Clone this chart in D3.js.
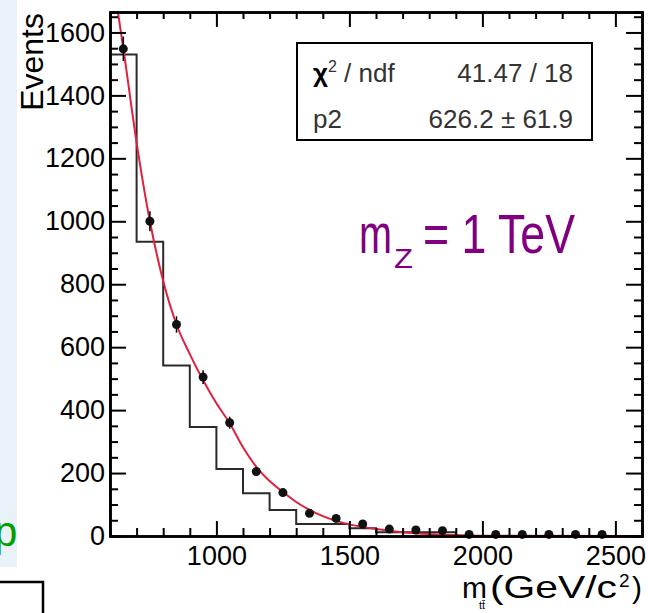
<!DOCTYPE html>
<html>
<head>
<meta charset="utf-8">
<script src="https://cdn.jsdelivr.net/npm/d3@7"></script>
<style>
  body { margin: 0; background: #fff; }
  svg { display: block; }
</style>
</head>
<body>
<script>
// histogram: bin lower edges (GeV/c^2) and counts, last edge closes the histogram
let binEdges = [600, 700, 800, 900, 1000, 1100, 1200, 1300, 1400, 1500, 1600, 1700, 1800, 1900];
let histCounts = [1530, 935, 542, 346, 213, 136, 83, 38, 38, 25, 12, 12, 12];

// data points at bin centres
let pointX = [650, 750, 850, 950, 1050, 1150, 1250, 1350, 1450, 1550, 1650, 1750, 1850, 1950, 2050, 2150, 2250, 2350, 2450];
let pointY = [1548, 1000, 672, 505, 360, 205, 138, 72, 56, 38, 22, 19, 17, 5, 5, 5, 5, 5, 5];
let pointErr = [39, 32, 26, 22, 19, 14, 12, 8, 7, 6, 5, 4, 4, 2, 2, 2, 2, 2, 2];

// fitted curve
let fitX = [630, 650, 700, 750, 800, 850, 900, 950, 1000, 1050, 1100, 1150, 1200, 1250, 1300, 1350, 1400, 1450, 1500, 1550, 1600, 1700, 1800, 1900, 2000, 2600];
let fitY = [1663, 1550, 1250, 1000, 810, 672, 578, 495, 422, 358, 282, 220, 175, 140, 108, 83, 63, 48, 37, 29, 22, 12, 6, 3, 1, 0];

let xMajor = [1000, 1500, 2000, 2500];
let yMajor = [0, 200, 400, 600, 800, 1000, 1200, 1400, 1600];

let statsRows = [["χ", "41.47 / 18"], ["p2", "626.2 ± 61.9"]];

let width = 648;
let height = 613;
let plotL = 110, plotR = 642, plotT = 12, plotB = 536;
let font = "'Liberation Sans', Arial, Helvetica, sans-serif";

let svg = d3
  .select("body")
  .append("svg")
  .attr("width", width)
  .attr("height", height);

let x = d3.scaleLinear().domain([600, 2600]).range([plotL, plotR]);
let y = d3.scaleLinear().domain([0, 1665]).range([plotB, plotT]);

// bits of the slide behind the plot
svg.append("rect")
  .attr("x", 0).attr("y", 0)
  .attr("width", 17).attr("height", 567)
  .attr("fill", "#eaf2f9");
svg.append("text")
  .attr("x", -6).attr("y", 546)
  .attr("font-family", font)
  .attr("font-size", 42)
  .attr("fill", "#00a000")
  .text("p");
svg.append("path")
  .attr("d", "M0,582H43V613")
  .attr("fill", "none")
  .attr("stroke", "#000")
  .attr("stroke-width", 2.5);

svg.append("clipPath").attr("id", "plot")
  .append("rect")
  .attr("x", plotL).attr("y", plotT)
  .attr("width", plotR - plotL).attr("height", plotB - plotT);

// histogram
let histPts = [[binEdges[0], 0]].concat(binEdges.map((e, i) => [e, i < histCounts.length ? histCounts[i] : 0]));
svg.append("path")
  .datum(histPts)
  .attr("fill", "none")
  .attr("stroke", "#2a2a2a")
  .attr("stroke-width", 2)
  .attr("d", d3.line().curve(d3.curveStepAfter).x(d => x(d[0])).y(d => y(d[1])));

// fit
svg.append("path")
  .datum(fitX.map((v, i) => [v, fitY[i]]))
  .attr("clip-path", "url(#plot)")
  .attr("fill", "none")
  .attr("stroke", "#e0203c")
  .attr("stroke-width", 2)
  .attr("d", d3.line().curve(d3.curveMonotoneX).x(d => x(d[0])).y(d => y(d[1])));

// data points with error bars
let pts = svg.append("g").selectAll("g")
  .data(pointX.map((v, i) => ({ x: v, y: pointY[i], e: pointErr[i] })))
  .enter().append("g");
pts.append("line")
  .attr("x1", d => x(d.x)).attr("x2", d => x(d.x))
  .attr("y1", d => y(d.y + d.e)).attr("y2", d => y(Math.max(0, d.y - d.e)))
  .attr("stroke", "#000").attr("stroke-width", 1.5);
pts.append("circle")
  .attr("cx", d => x(d.x)).attr("cy", d => y(d.y))
  .attr("r", 4.5)
  .attr("fill", "#111");

// axes, ROOT style: ticks pointing inwards on all four sides
let styleAxis = (g) => {
  g.attr("font-family", font).attr("font-size", 27);
  g.selectAll("path.domain").attr("stroke", "#000").attr("stroke-width", 2.5);
  g.selectAll("line").attr("stroke", "#000").attr("stroke-width", 2);
  g.selectAll("text").attr("fill", "#000");
};

let xMinor = d3.range(700, 2600, 100).filter(v => !xMajor.includes(v));
let yMinor = d3.range(50, 1665, 50).filter(v => !yMajor.includes(v));
let fmt = d3.format("d");

svg.append("g").attr("transform", `translate(0,${plotB})`)
  .call(d3.axisBottom(x).tickValues(xMinor).tickSize(-8).tickFormat(""))
  .call(styleAxis);
svg.append("g").attr("transform", `translate(0,${plotB})`)
  .call(d3.axisBottom(x).tickValues(xMajor).tickFormat(fmt).tickSizeInner(-15).tickSizeOuter(0).tickPadding(10))
  .call(styleAxis);
svg.append("g").attr("transform", `translate(0,${plotT})`)
  .call(d3.axisTop(x).tickValues(xMinor).tickSize(-7).tickFormat(""))
  .call(styleAxis);
svg.append("g").attr("transform", `translate(0,${plotT})`)
  .call(d3.axisTop(x).tickValues(xMajor).tickSizeInner(-15).tickSizeOuter(0).tickFormat(""))
  .call(styleAxis);

svg.append("g").attr("transform", `translate(${plotL},0)`)
  .call(d3.axisLeft(y).tickValues(yMinor).tickSize(-8).tickFormat(""))
  .call(styleAxis);
svg.append("g").attr("transform", `translate(${plotL},0)`)
  .call(d3.axisLeft(y).tickValues(yMajor).tickFormat(fmt).tickSizeInner(-16).tickSizeOuter(0).tickPadding(5))
  .call(styleAxis);
svg.append("g").attr("transform", `translate(${plotR},0)`)
  .call(d3.axisRight(y).tickValues(yMinor).tickSize(-8).tickFormat(""))
  .call(styleAxis);
svg.append("g").attr("transform", `translate(${plotR},0)`)
  .call(d3.axisRight(y).tickValues(yMajor).tickSizeInner(-16).tickSizeOuter(0).tickFormat(""))
  .call(styleAxis);

// axis titles
svg.append("text")
  .attr("transform", "translate(43,13) rotate(-90)")
  .attr("text-anchor", "end")
  .attr("font-family", font)
  .attr("font-size", 32)
  .attr("fill", "#000")
  .text("Events");

let xt = svg.append("g").attr("font-family", font).attr("fill", "#000");
xt.append("text").attr("x", 462).attr("y", 598).attr("font-size", 30).text("m");
xt.append("text").attr("x", 479).attr("y", 609).attr("font-size", 11).text("tt\u0304");
xt.append("text").attr("x", 490).attr("y", 598).attr("font-size", 32)
  .attr("textLength", 127).attr("lengthAdjust", "spacingAndGlyphs").text("(GeV/c");
xt.append("text").attr("x", 619).attr("y", 587).attr("font-size", 19).text("2");
xt.append("text").attr("x", 632).attr("y", 598).attr("font-size", 30).text(")");

// stats box
svg.append("rect")
  .attr("x", 297).attr("y", 43)
  .attr("width", 295).attr("height", 97)
  .attr("fill", "#fff")
  .attr("stroke", "#000")
  .attr("stroke-width", 2);
let rowY = [82, 128];
let st = svg.append("g").attr("font-family", font).attr("font-size", 26).attr("fill", "#333");
let chi = st.append("text").attr("x", 313).attr("y", rowY[0]);
chi.append("tspan").attr("font-weight", "bold").attr("fill", "#000").text(statsRows[0][0]);
chi.append("tspan").attr("font-size", 16).attr("dy", -10).text("2");
chi.append("tspan").attr("dy", 10).text(" / ndf");
st.append("text").attr("x", 313).attr("y", rowY[1]).text(statsRows[1][0]);
st.selectAll("text.val")
  .data(statsRows)
  .enter().append("text")
  .attr("class", "val")
  .attr("x", 573)
  .attr("y", (d, i) => rowY[i])
  .attr("text-anchor", "end")
  .text(d => d[1]);

// mass label
let ml = svg.append("g").attr("font-family", font).attr("fill", "#800080");
ml.append("text").attr("x", 359).attr("y", 253).attr("font-size", 55)
  .attr("textLength", 33).attr("lengthAdjust", "spacingAndGlyphs").text("m");
ml.append("text").attr("x", 394).attr("y", 268).attr("font-size", 28)
  .attr("textLength", 19).attr("lengthAdjust", "spacingAndGlyphs").text("Z");
ml.append("text").attr("x", 423).attr("y", 253).attr("font-size", 55)
  .attr("textLength", 152).attr("lengthAdjust", "spacingAndGlyphs").text("= 1 TeV");
</script>
</body>
</html>
